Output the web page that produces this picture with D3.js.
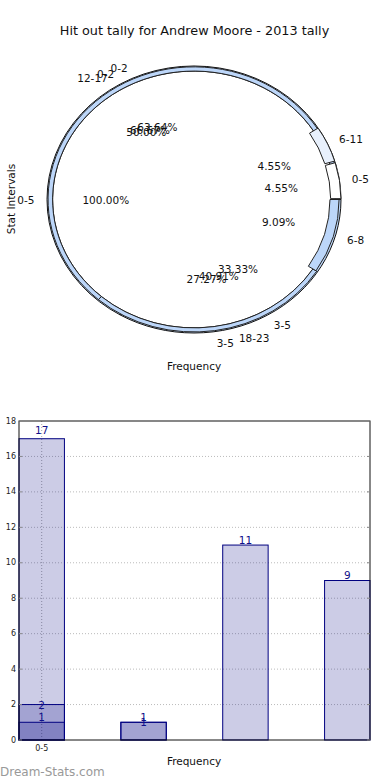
<!DOCTYPE html>
<html><head><meta charset="utf-8">
<script src="https://cdn.jsdelivr.net/npm/d3@7"></script>
<style>
html,body{margin:0;padding:0;background:#fff;}
svg{display:block;font-family:"DejaVu Sans",sans-serif;}
</style></head>
<body>
<svg id="chart" width="390" height="780"></svg>
<script>
// ---------- DATA ----------
const title = "Hit out tally for Andrew Moore - 2013 tally";
// nested pie rings
const pieALabels = ["0-5", "6-11", "12-17", "18-23"];
const pieAValues = [1, 1, 11, 9];
const pieBLabels = ["0-2", "3-5", "6-8"];
const pieBValues = [14, 6, 2];
const pieCLabels = ["0-2", "3-5"];
const pieCValues = [2, 1];
const pieDLabels = ["0-5"];
const pieDValues = [17];
// bar chart
const barCategories = ["0-5", "6-11", "12-17", "18-23"];
const seriesD = [17, null, null, null];
const seriesC = [2, 1, null, null];
const seriesA = [1, 1, 11, 9];
const yTicks = [0, 2, 4, 6, 8, 10, 12, 14, 16, 18];

// ---------- DRAW ----------
const svg = d3.select("#chart");
const BLUE = "#bcd6f9";

svg.append("text").attr("x", 194.5).attr("y", 34.5).attr("text-anchor", "middle")
  .attr("font-size", 12.8).attr("fill", "#111").text(title);

// pie area (elliptical)
const cx = 194, cy = 199.5, rx = 147, ry = 133.5;
const pieGen = d3.pie().sort(null).value(d => d)
  .startAngle(Math.PI / 2).endAngle(Math.PI / 2 - 2 * Math.PI);

const rings = [
  {labels: pieCLabels, values: pieCValues, rOut: 1.0, rIn: 0.962, fill: () => BLUE, stroke: "#111"},
  {labels: pieBLabels, values: pieBValues, rOut: 0.993, rIn: 0.962, fill: () => BLUE, stroke: "#222",
    smallOut: 0.987, smallIn: 0.925},
  {labels: pieALabels, values: pieAValues, rOut: 0.955, rIn: 0.885,
    fill: (i, frac) => frac < 0.1 ? (i === 0 ? "#ffffff" : "#e8f0fc") : "none",
    stroke: "#222", explode: 0.045, hideLarge: true},
  {labels: pieDLabels, values: pieDValues, rOut: 0.94, rIn: 0.0, fill: () => "none", stroke: "none"}
];

const pg = svg.append("g").attr("transform", `translate(${cx},${cy}) scale(${rx},${ry})`);
rings.forEach(ring => {
  const total = d3.sum(ring.values);
  const arcs = pieGen(ring.values);
  arcs.forEach((a, i) => {
    const frac = ring.values[i] / total;
    const small = frac < 0.1;
    const mid = (a.startAngle + a.endAngle) / 2;
    const e = small && ring.explode ? ring.explode : 0;
    const rO = small && ring.smallOut ? ring.smallOut : ring.rOut;
    const rI = small && ring.smallIn ? ring.smallIn : ring.rIn;
    const arc = d3.arc().innerRadius(rI).outerRadius(rO);
    const hidden = ring.hideLarge && !small;
    pg.append("path").attr("d", arc(a))
      .attr("transform", `translate(${e * Math.sin(mid)},${-e * Math.cos(mid)})`)
      .attr("fill", ring.fill(i, frac))
      .attr("stroke", hidden ? "none" : ring.stroke)
      .attr("stroke-width", 1)
      .attr("vector-effect", "non-scaling-stroke");
  });
});

// pie labels
rings.forEach(ring => {
  const total = d3.sum(ring.values);
  const arcs = pieGen(ring.values);
  arcs.forEach((a, i) => {
    const mid = (a.startAngle + a.endAngle) / 2;
    const s = Math.sin(mid), c = Math.cos(mid);
    svg.append("text")
      .attr("x", cx + 1.085 * rx * s).attr("y", cy - 1.085 * ry * c)
      .attr("text-anchor", s > 0.001 ? "start" : (s < -0.001 ? "end" : "middle"))
      .attr("dominant-baseline", "central")
      .attr("font-size", 10.5).attr("fill", "#111").text(ring.labels[i]);
    svg.append("text")
      .attr("x", cx + 0.6 * rx * s).attr("y", cy - 0.6 * ry * c)
      .attr("text-anchor", "middle").attr("dominant-baseline", "central")
      .attr("font-size", 10.5).attr("fill", "#111")
      .text((ring.values[i] / total * 100).toFixed(2) + "%");
  });
});

svg.append("text").attr("transform", "translate(11,199) rotate(-90)")
  .attr("text-anchor", "middle").attr("dominant-baseline", "central")
  .attr("font-size", 10.5).attr("fill", "#111").text("Stat Intervals");
svg.append("text").attr("x", 194).attr("y", 370).attr("text-anchor", "middle")
  .attr("font-size", 10.5).attr("fill", "#111").text("Frequency");

// ---------- BAR CHART ----------
const L = 19, R = 370, T = 421, B = 740;
const y = d3.scaleLinear().domain([0, 18]).range([B, T]);
const x = d3.scaleBand().domain(barCategories).range([L, R]).paddingInner(0.554).paddingOuter(0);

const bg = svg.append("g");
// horizontal grid
bg.selectAll("line.hg").data(yTicks.filter(t => t > 0 && t < 18)).join("line")
  .attr("x1", L).attr("x2", R).attr("y1", d => y(d)).attr("y2", d => y(d))
  .attr("stroke", "#bbb").attr("stroke-width", 1).attr("stroke-dasharray", "1,2");
// vertical grid at first category
const xTickCats = [barCategories[0]];
bg.selectAll("line.vg").data(xTickCats).join("line")
  .attr("x1", d => x(d) + x.bandwidth() / 2).attr("x2", d => x(d) + x.bandwidth() / 2)
  .attr("y1", T).attr("y2", B)
  .attr("stroke", "#aaa").attr("stroke-width", 1).attr("stroke-dasharray", "1,2");

const seriesList = [
  {vals: seriesD, dy: -9},
  {vals: seriesC, dy: 0},
  {vals: seriesA, dy: -5.5}
];
seriesList.forEach(s => {
  barCategories.forEach((cat, i) => {
    const v = s.vals[i];
    if (v == null) return;
    bg.append("rect").attr("x", x(cat)).attr("y", y(v))
      .attr("width", x.bandwidth()).attr("height", y(0) - y(v))
      .attr("fill", "rgba(0,0,128,0.2)").attr("stroke", "#000080").attr("stroke-width", 1);
  });
});
seriesList.forEach(s => {
  barCategories.forEach((cat, i) => {
    const v = s.vals[i];
    if (v == null) return;
    bg.append("text").attr("x", x(cat) + x.bandwidth() / 2).attr("y", y(v) + s.dy)
      .attr("text-anchor", "middle").attr("dominant-baseline", "central")
      .attr("font-size", 10.5).attr("fill", "#10108a").text(v);
  });
});

// frame
bg.append("rect").attr("x", L).attr("y", T).attr("width", R - L).attr("height", B - T)
  .attr("fill", "none").attr("stroke", "#111").attr("stroke-width", 1);
// y ticks
yTicks.forEach(t => {
  bg.append("line").attr("x1", L).attr("x2", L + 3).attr("y1", y(t)).attr("y2", y(t)).attr("stroke", "#888");
  bg.append("line").attr("x1", R - 3).attr("x2", R).attr("y1", y(t)).attr("y2", y(t)).attr("stroke", "#888");
  bg.append("text").attr("x", 16).attr("y", y(t)).attr("text-anchor", "end")
    .attr("dominant-baseline", "central").attr("font-size", 8).attr("fill", "#222").text(t);
});
// x tick label
xTickCats.forEach(c => {
  bg.append("text").attr("x", x(c) + x.bandwidth() / 2).attr("y", 748)
    .attr("text-anchor", "middle").attr("dominant-baseline", "central")
    .attr("font-size", 8).attr("fill", "#222").text(c);
});
svg.append("text").attr("x", 194).attr("y", 765).attr("text-anchor", "middle")
  .attr("font-size", 10.5).attr("fill", "#111").text("Frequency");
svg.append("text").attr("x", 0).attr("y", 775.5).attr("font-size", 12)
  .attr("fill", "#999").text("Dream-Stats.com");
</script>
</body></html>
